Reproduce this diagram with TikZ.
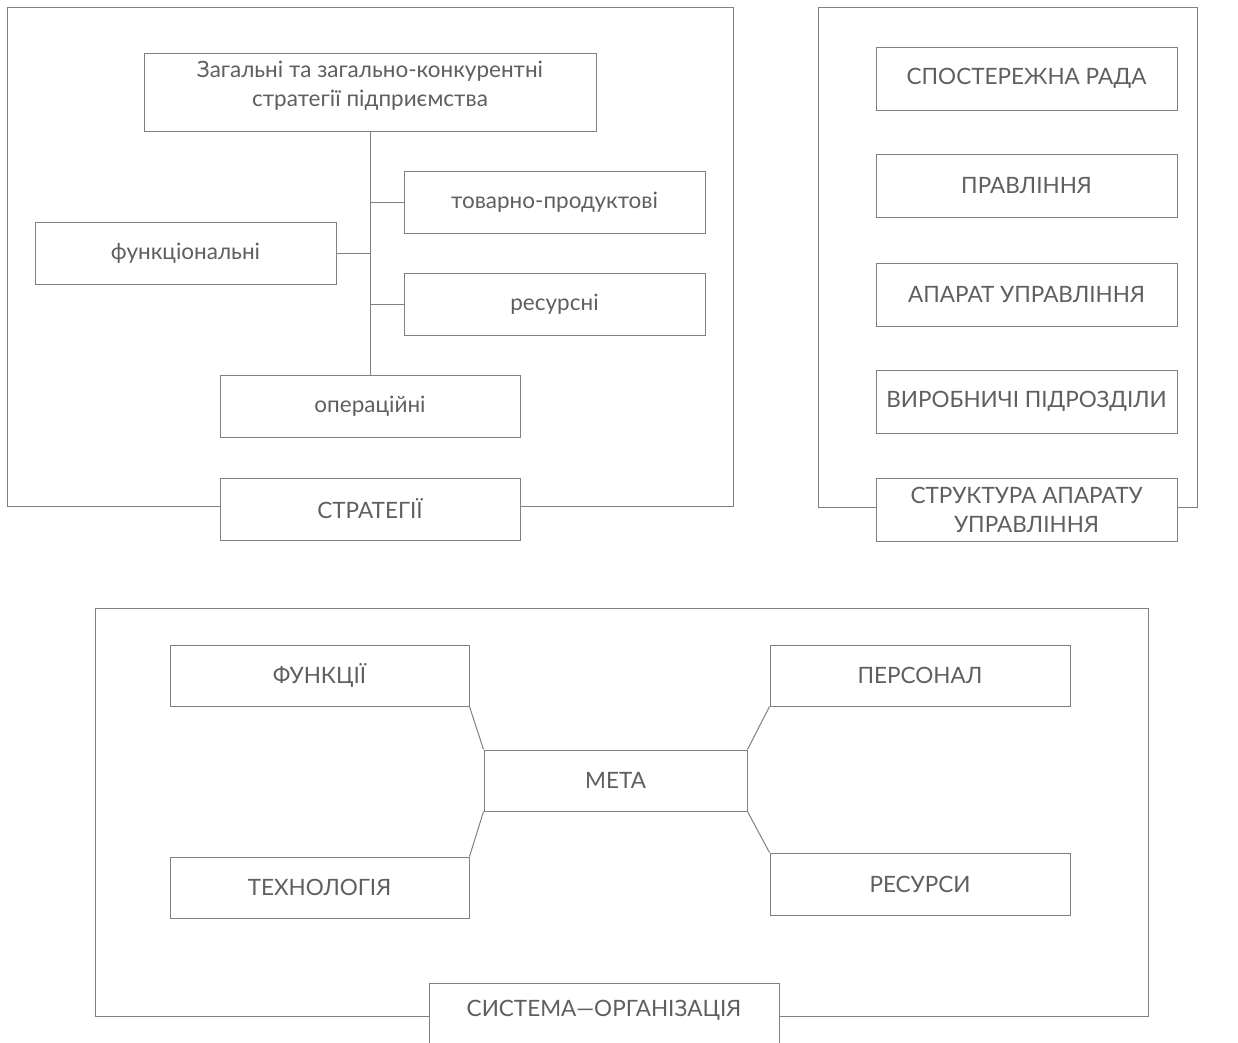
\documentclass[tikz,border=0pt]{standalone}
\usepackage{fontspec}
\setmainfont{Lato}
\usepackage{tikz}
\definecolor{linegray}{RGB}{128,128,128}
\definecolor{textgray}{RGB}{95,95,95}

\begin{document}
\begin{tikzpicture}[x=1pt, y=-1pt, line width=1pt]
                \tikzstyle{every node}=[font=\fontsize{22.5}{29}\selectfont]
                \tikzstyle{blk}=[draw=linegray, fill=white, text=textgray, inner sep=0pt,
                                 minimum width=301, minimum height=62, align=center]
                \tikzstyle{frm}=[draw=linegray]
                \tikzstyle{lnk}=[draw=linegray]
                \useasboundingbox (0,0) rectangle (1238,1042);

                % frames
                \draw[frm] (7,7) rectangle (733,506);
                \draw[frm] (818,7) rectangle (1197,507);
                \draw[frm] (95,608) rectangle (1148,1016);

                % strategies
                \node[blk, minimum width=452, minimum height=78, text depth=16pt] (gen) at (370, 92)
                    {Загальні та загально-конкурентні\\стратегії підприємства};
                \node[blk] (tov) at (554.5, 202.5) {товарно-продуктові};
                \node[blk] (func) at (185.5, 253) {функціональні};
                \node[blk] (res) at (554.5, 304) {ресурсні};
                \node[blk, minimum width=300] (oper) at (370, 406) {операційні};
                \node[blk, minimum width=300] (strat) at (370, 509) {СТРАТЕГІЇ};

                \draw[lnk] (gen.south) -- (oper.north);
                \draw[lnk] (tov.west) -- (tov.west -| gen.south);
                \draw[lnk] (func.east) -- (func.east -| gen.south);
                \draw[lnk] (res.west) -- (res.west -| gen.south);

                % management structure
                \node[blk, minimum height=63] (rada) at (1026.5, 78.5) {СПОСТЕРЕЖНА РАДА};
                \node[blk, minimum height=63] (prav) at (1026.5, 186) {ПРАВЛІННЯ};
                \node[blk, minimum height=63] (apar) at (1026.5, 294.5) {АПАРАТ УПРАВЛІННЯ};
                \node[blk, minimum height=63] (vyrob) at (1026.5, 401.5) {ВИРОБНИЧІ ПІДРОЗДІЛИ};
                \node[blk, minimum height=63] (struk) at (1026.5, 509.5)
                    {СТРУКТУРА АПАРАТУ\\УПРАВЛІННЯ};

                % system-organisation
                \node[blk, minimum width=299, minimum height=61] (funk) at (319.5, 675.5) {ФУНКЦІЇ};
                \node[blk, minimum width=300, minimum height=61] (pers) at (920, 675.5) {ПЕРСОНАЛ};
                \node[blk, minimum width=263, minimum height=61] (meta) at (615.5, 780.5) {МЕТА};
                \node[blk, minimum width=299, minimum height=61] (tech) at (319.5, 887.5) {ТЕХНОЛОГІЯ};
                \node[blk, minimum width=300] (resu) at (920, 884) {РЕСУРСИ};
                \node[blk, minimum width=350, anchor=north, text height=33pt, text depth=40pt]
                    (sys) at (604, 983) {СИСТЕМА---ОРГАНІЗАЦІЯ};

                \draw[lnk] (funk.south east) -- (meta.north west);
                \draw[lnk] (pers.south west) -- (meta.north east);
                \draw[lnk] (meta.south west) -- (tech.north east);
                \draw[lnk] (meta.south east) -- (resu.north west);
          \end{tikzpicture}
\end{document}
